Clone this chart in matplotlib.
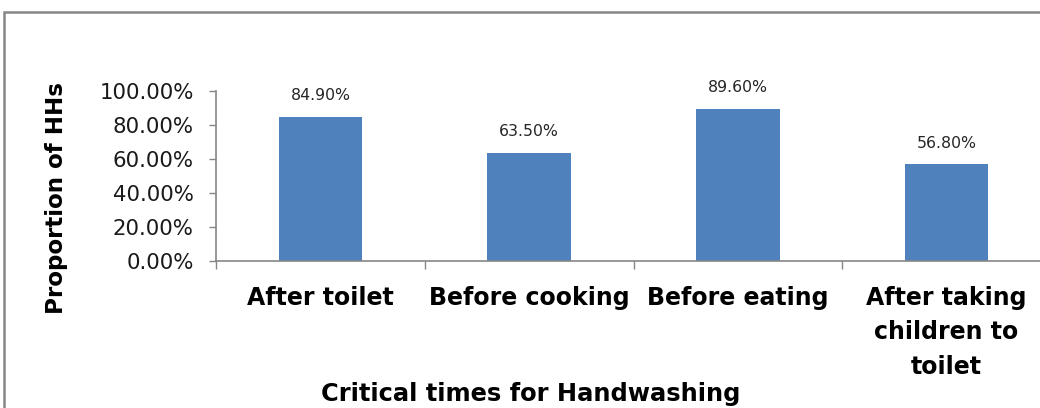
import numpy as np
import matplotlib
matplotlib.use("Agg")
import matplotlib.pyplot as plt
from matplotlib.patches import Rectangle
from matplotlib.ticker import FuncFormatter

categories = ["After toilet", "Before cooking", "Before eating",
              "After taking\nchildren to\ntoilet"]
values = [84.90, 63.50, 89.60, 56.80]
yticks = [0, 20, 40, 60, 80, 100]

BAR = "#4F81BD"
AXIS = "#868686"

fig = plt.figure(figsize=(10.4, 4.08), dpi=100)
ax = fig.add_axes([216 / 1040, 147 / 408, 835 / 1040, 170 / 408])

x = np.arange(len(categories))
bars = ax.bar(x, values, width=0.4, color=BAR, zorder=2)
for b, v in zip(bars, values):
    ax.text(b.get_x() + b.get_width() / 2, v + 8, f"{v:.2f}%",
            ha="center", va="bottom", fontsize=11.3, color="#262626")

ax.set_xlim(-0.5, len(categories) - 0.5)
ax.set_ylim(0, 100)
ax.set_yticks(yticks)
ax.yaxis.set_major_formatter(FuncFormatter(lambda v, _: f"{v:.2f}%"))
ax.tick_params(axis="y", length=5, width=1, color=AXIS, pad=11,
               labelsize=15.3, labelcolor="#1a1a1a")

ax.set_xticks(x)
ax.set_xticklabels(categories, fontweight="bold", fontsize=17,
                   linespacing=1.55, va="top")
ax.set_xticks(np.arange(-0.5, len(categories)), minor=True)
ax.tick_params(axis="x", which="major", length=0, pad=18)
ax.tick_params(axis="x", which="minor", length=6, width=1, color=AXIS)

for side in ["top", "right"]:
    ax.spines[side].set_visible(False)
for side in ["left", "bottom"]:
    ax.spines[side].set_color(AXIS)
    ax.spines[side].set_linewidth(1.2)

fig.text(56 / 1040, 1 - 198 / 408, "Proportion of HHs", rotation=90,
         ha="center", va="center", fontsize=16.6, fontweight="bold")
fig.text(531 / 1040, 1 - 394 / 408, "Critical times for Handwashing",
         ha="center", va="center", fontsize=17.4, fontweight="bold")

# chart-area frame
fig.add_artist(Rectangle((4 / 1040, -0.1), 1.1, 1 - 12 / 408 + 0.1,
                         transform=fig.transFigure, fill=False,
                         edgecolor=AXIS, linewidth=1.8))

fig.savefig("out.png", dpi=100)
